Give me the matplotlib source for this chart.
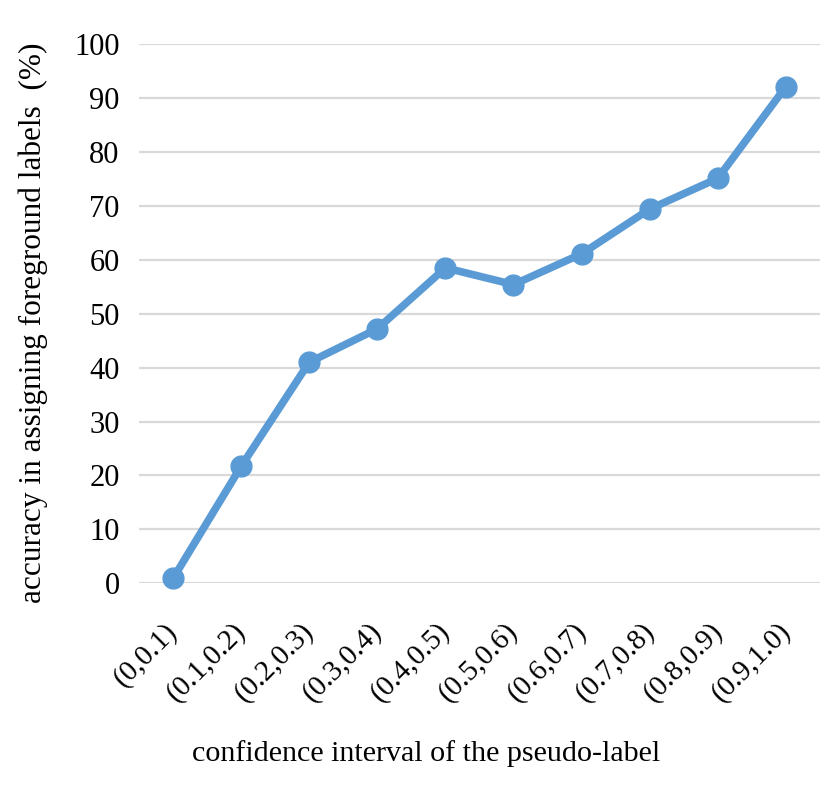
import matplotlib.pyplot as plt
import matplotlib.transforms as mtransforms
import numpy as np

# confidence intervals and measured accuracy (%)
intervals = ['(0,0.1)', '(0.1,0.2)', '(0.2,0.3)', '(0.3,0.4)', '(0.4,0.5)',
             '(0.5,0.6)', '(0.6,0.7)', '(0.7,0.8)', '(0.8,0.9)', '(0.9,1.0)']
accuracy = [0.9, 21.7, 41.0, 47.2, 58.5, 55.4, 61.1, 69.4, 75.1, 92.1]
yticks = list(range(0, 101, 10))

plt.rcParams['font.family'] = ['Liberation Serif', 'DejaVu Serif']

fig = plt.figure(figsize=(8.29, 8.02), dpi=100)
ax = fig.add_axes([0.1677, 0.2727, 0.8213, 0.6723])

x = np.arange(len(intervals))
ax.plot(x, accuracy, color='#5B9BD5', lw=5.5, marker='o', ms=15,
        clip_on=False, zorder=3)

ax.set_xlim(-0.5, len(intervals) - 0.5)
ax.set_ylim(0, 100)
ax.set_yticks(yticks)
ax.yaxis.grid(True, color='#D9D9D9', lw=1.6)
ax.set_axisbelow(True)
for s in ax.spines.values():
    s.set_visible(False)
ax.tick_params(axis='y', length=0, labelsize=22, pad=14)
ax.tick_params(axis='x', length=0, labelsize=21, pad=25)

ax.set_xticks(x)
ax.set_xticklabels(intervals, rotation=45, ha='right', va='top')
# nudge the slanted labels a little to the right
shift = mtransforms.ScaledTranslation(10 / 100, 0, fig.dpi_scale_trans)
for lab in ax.get_xticklabels():
    lab.set_transform(lab.get_transform() + shift)

fig.text(0.514, 0.061, 'confidence interval of the pseudo-label',
         ha='center', va='center', fontsize=21.6)
fig.text(0.04, 0.597, 'accuracy in assigning foreground labels  (%)',
         ha='center', va='center', rotation=90, fontsize=22.5)

fig.savefig('out.png', dpi=100)
